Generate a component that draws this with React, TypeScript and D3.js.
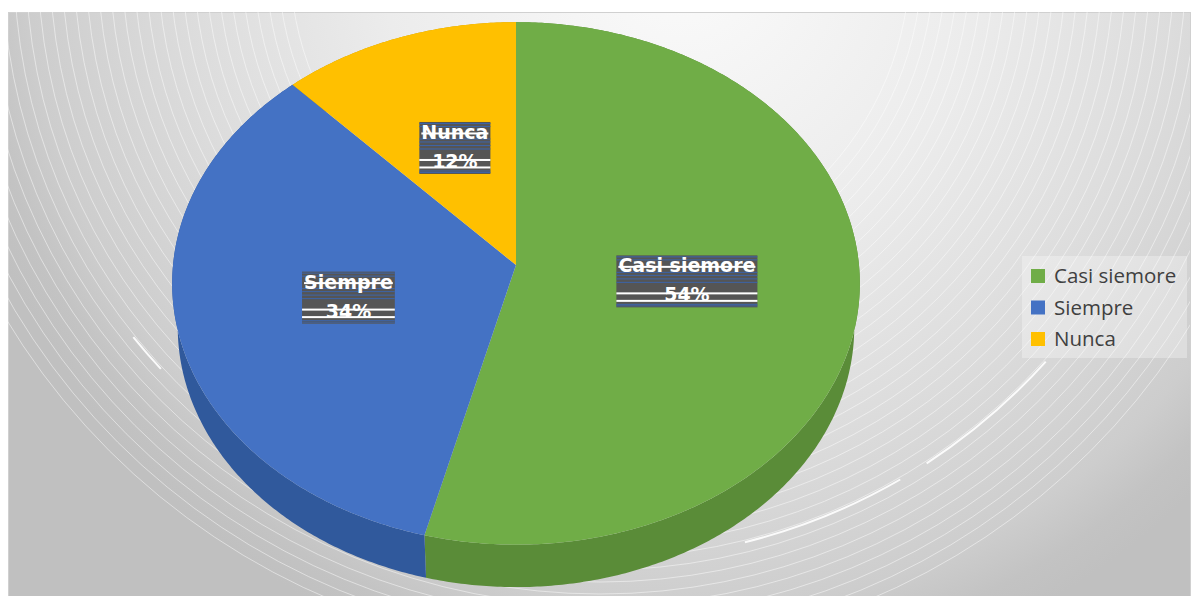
import React, { useEffect, useRef } from "react";
import * as d3 from "d3";

// data
const categories = ["Casi siemore", "Siempre", "Nunca"];
const values = [54, 34, 12];
const percentLabels = ["54%", "34%", "12%"];
const topColors = ["#70ad47", "#4472c4", "#ffc000"];
const sideColors = ["#5a8c38", "#30599c", "#c99700"];

const W = 1192;
const H = 596;

// simple perspective camera for the tilted disk
const cam = { cx: 516, cy: 265, f: 3176, D: 9.26, sin: 0.758, cos: 0.652, depth: 0.2 };

function project(X: number, Y: number, Z: number): [number, number] {
  const v = Z * cam.sin + Y * cam.cos;
  const d = cam.D + Z * cam.cos - Y * cam.sin;
  return [cam.cx + (cam.f * X) / d, cam.cy - (cam.f * v) / d];
}

function rim(a0: number, a1: number, r: number, y: number) {
  const n = Math.max(2, Math.ceil((a1 - a0) / 0.01));
  return d3.range(n + 1).map((i) => {
    const a = a0 + ((a1 - a0) * i) / n;
    return project(r * Math.sin(a), y, r * Math.cos(a));
  });
}

export default function App() {
  const ref = useRef<SVGSVGElement>(null);

  useEffect(() => {
    document.body.style.margin = "0";
    const svg = d3.select(ref.current);
    svg.selectAll("*").remove();
    const defs = svg.append("defs");

    // background
    const bg = defs
      .append("radialGradient")
      .attr("id", "bg")
      .attr("gradientUnits", "userSpaceOnUse")
      .attr("cx", 680)
      .attr("cy", -40)
      .attr("r", 740);
    [
      [0, "#fbfbfb"],
      [0.4, "#ececec"],
      [0.67, "#dcdcdc"],
      [0.88, "#cdcdcd"],
      [0.95, "#c3c3c3"],
      [1, "#c0c0c0"],
    ].forEach(([o, c]) => bg.append("stop").attr("offset", o as number).attr("stop-color", c as string));

    defs
      .append("clipPath")
      .attr("id", "plot")
      .append("rect")
      .attr("x", 8)
      .attr("y", 12)
      .attr("width", 1182)
      .attr("height", 590);

    svg.append("rect").attr("width", W).attr("height", H).attr("fill", "#fff");
    svg
      .append("rect")
      .attr("x", 8.5)
      .attr("y", 12.5)
      .attr("width", 1182)
      .attr("height", 600)
      .attr("fill", "url(#bg)")
      .attr("stroke", "#d0d0d0");

    const deco = svg.append("g").attr("clip-path", "url(#plot)");
    deco
      .selectAll("circle")
      .data(d3.range(310, 705, 12))
      .join("circle")
      .attr("cx", 600)
      .attr("cy", -40)
      .attr("r", (d) => d)
      .attr("fill", "none")
      .attr("stroke", "#fff")
      .attr("stroke-opacity", 0.6)
      .attr("stroke-width", 0.8);
    deco
      .append("circle")
      .attr("cx", 600)
      .attr("cy", -40)
      .attr("r", 600)
      .attr("fill", "none")
      .attr("stroke", "#fff")
      .attr("stroke-opacity", 0.9)
      .attr("stroke-width", 2)
      .attr("stroke-dasharray", "0 440 157 31 168 639 42 2293");

    // pie
    const arcs = d3.pie<number>().sort(null).value((d) => d)(values);
    const line = d3.line();

    const g = svg.append("g");
    arcs.forEach((a, i) => {
      const top = rim(a.startAngle, a.endAngle, 1, 0);
      const bot = rim(a.startAngle, a.endAngle, 1, -cam.depth).reverse();
      g.append("path")
        .attr("d", line([...top, ...bot]) + "Z")
        .attr("fill", sideColors[i]);
    });
    arcs.forEach((a, i) => {
      const top = rim(a.startAngle, a.endAngle, 1, 0);
      g.append("path")
        .attr("d", line([project(0, 0, 0), ...top]) + "Z")
        .attr("fill", topColors[i]);
    });

    // data labels
    arcs.forEach((a, i) => {
      const mid = (a.startAngle + a.endAngle) / 2;
      const [px, py] = project(0.5 * Math.sin(mid), 0, 0.5 * Math.cos(mid));
      const lg = svg.append("g").attr("transform", `translate(${px},${py})`);
      const box = lg.append("rect").attr("fill", "#555555");
      const blue = lg.append("g");
      const style = (t: any) =>
        t
          .attr("text-anchor", "middle")
          .attr("font-family", "DejaVu Sans")
          .attr("font-weight", "bold")
          .attr("font-size", 19)
          .attr("fill", "#fff");
      const t1 = style(lg.append("text").attr("y", -9).text(categories[i]));
      const t2 = style(lg.append("text").attr("y", 20).text(percentLabels[i]));
      const w1 = (t1.node() as SVGTextElement).getComputedTextLength();
      const w2 = (t2.node() as SVGTextElement).getComputedTextLength();
      const bw = Math.max(w1, w2) + 4;
      const bx = -bw / 2;
      const by = -26;
      box.attr("x", bx).attr("y", by).attr("width", bw).attr("height", 52);
      [1.5, 4.5, 17, 20, 23.5, 27, 49, 50.5].forEach((o) =>
        blue
          .append("line")
          .attr("x1", bx)
          .attr("x2", bx + bw)
          .attr("y1", by + o)
          .attr("y2", by + o)
          .attr("stroke", "#3d64a8")
          .attr("stroke-width", 1)
      );
      lg.append("rect").attr("x", -w1 / 2).attr("y", -15.5).attr("width", w1).attr("height", 2).attr("fill", "#fff");
      [37, 44.5].forEach((o) =>
        lg.append("rect").attr("x", bx).attr("y", by + o).attr("width", bw).attr("height", 2).attr("fill", "#fff")
      );
    });

    // legend
    const leg = svg.append("g");
    leg
      .append("rect")
      .attr("x", 1022)
      .attr("y", 256)
      .attr("width", 165)
      .attr("height", 102)
      .attr("fill", "#fff")
      .attr("fill-opacity", 0.3);
    const ly = d3.scalePoint<string>().domain(categories).range([276, 339]);
    categories.forEach((c, i) => {
      leg
        .append("rect")
        .attr("x", 1031)
        .attr("y", ly(c)! - 7)
        .attr("width", 14)
        .attr("height", 14)
        .attr("fill", topColors[i]);
      leg
        .append("text")
        .attr("x", 1054)
        .attr("y", ly(c)! + 7)
        .attr("font-family", "Open Sans")
        .attr("font-size", 20.5)
        .attr("fill", "#404040")
        .text(c);
    });
  }, []);

  return <svg ref={ref} width={W} height={H} style={{ display: "block" }} />;
}
